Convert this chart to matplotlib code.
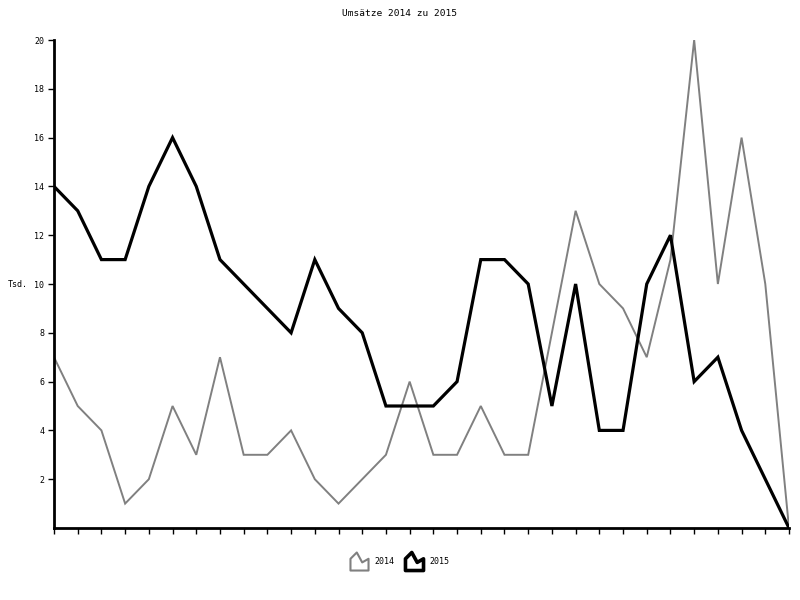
import matplotlib
matplotlib.use("Agg")
import matplotlib.pyplot as plt
from matplotlib.path import Path
from matplotlib.lines import Line2D
import numpy as np

title = "Umsätze 2014 zu 2015"
ylabel = "Tsd."
series_names = ["2014", "2015"]
values_2014 = [7, 5, 4, 1, 2, 5, 3, 7, 3, 3, 4, 2, 1, 2, 3, 6, 3, 3, 5, 3, 3, 8, 13, 10, 9, 7, 11, 20, 10, 16, 10, 0]
values_2015 = [14, 13, 11, 11, 14, 16, 14, 11, 10, 9, 8, 11, 9, 8, 5, 5, 5, 6, 11, 11, 10, 5, 10, 4, 4, 10, 12, 6, 7, 4, 2, 0]
yticks = [2, 4, 6, 8, 10, 12, 14, 16, 18, 20]

plt.rcParams['font.family'] = ['DejaVu Sans Mono']

fig = plt.figure(figsize=(8, 6), dpi=100)
ax = fig.add_axes([54/800, 72/600, (789-54)/800, (528-40)/600])

x = np.arange(len(values_2014))
ax.plot(x, values_2014, color="#808080", lw=1.4, solid_joinstyle='miter')
ax.plot(x, values_2015, color="black", lw=2.3, solid_joinstyle='miter')

ax.set_xlim(0, len(x) - 1)
ax.set_ylim(0, 20)
ax.set_xticks(x)
ax.set_xticklabels([])
ax.set_yticks(yticks)
ax.set_yticklabels([str(v) for v in yticks], fontsize=6)
ax.tick_params(axis='both', direction='out', length=4, width=1, pad=3)
for s in ['top', 'right']:
    ax.spines[s].set_visible(False)
for s in ['left', 'bottom']:
    ax.spines[s].set_linewidth(2)

fig.text(18/800, 1 - 284/600, ylabel, fontsize=6, ha='center', va='center')
fig.text(0.5, 1 - 14/600, title, fontsize=6.8, ha='center', va='center')

verts = [(-0.5, -0.5), (-0.5, 0.15), (-0.15, 0.5), (0.15, -0.05), (0.5, 0.15), (0.5, -0.5), (-0.5, -0.5)]
codes = [Path.MOVETO] + [Path.LINETO] * 5 + [Path.CLOSEPOLY]
crown = Path(verts, codes)

h1 = Line2D([], [], color="#808080", marker=crown, markersize=13, markerfacecolor='none', markeredgewidth=1.5, linestyle='none')
h2 = Line2D([], [], color="black", marker=crown, markersize=13, markerfacecolor='none', markeredgewidth=2.6, linestyle='none')
fig.legend([h1, h2], series_names, loc='center', bbox_to_anchor=(0.5, 1 - 561/600), ncol=2, frameon=False,
           fontsize=6, handlelength=2.0, handletextpad=0.8, columnspacing=1.4)

fig.savefig("out.png", dpi=100)
